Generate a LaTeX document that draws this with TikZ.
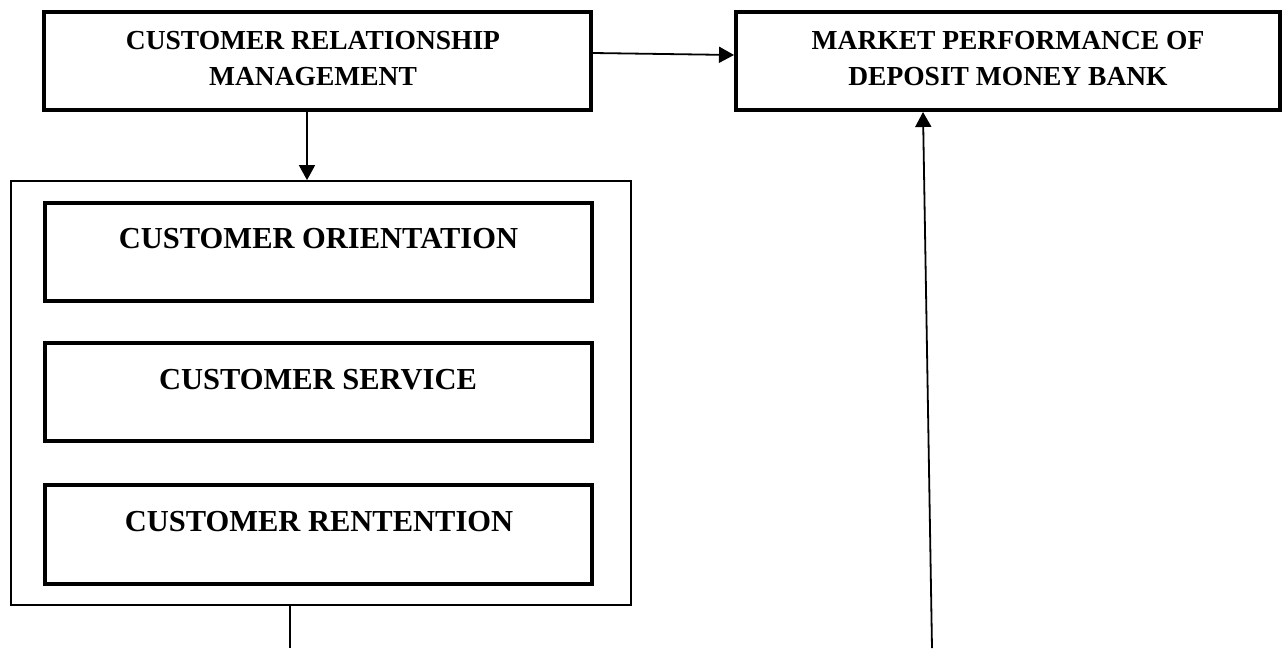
\documentclass[tikz,border=0pt]{standalone}
\usepackage{fontspec}
\setmainfont{Liberation Serif}
\usetikzlibrary{arrows.meta}

\begin{document}
\begin{tikzpicture}[x=1pt,y=1pt,
    thickbox/.style={draw=black, line width=4pt, inner sep=0pt},
    thinbox/.style={draw=black, line width=1.8pt, inner sep=0pt},
    headtext/.style={font=\bfseries\fontsize{27.5}{36}\selectfont, align=center, inner sep=0pt, anchor=north},
    itemtext/.style={font=\bfseries\fontsize{30.5}{36}\selectfont, inner sep=0pt, anchor=base},
    link/.style={line width=1.8pt, -{Triangle[length=15pt,width=16pt]}},
    plain/.style={line width=1.8pt}]
  \useasboundingbox (0,0) rectangle (1282,-648);

  % top row
  \node[thickbox, minimum width=547pt, minimum height=98pt] (crm) at (317.5,-61) {};
  \node[thickbox, minimum width=544pt, minimum height=98pt] (mp) at (1008,-61) {};
  \node[headtext] (crmtext) at (313,-31) {CUSTOMER RELATIONSHIP\\MANAGEMENT};
  \node[headtext] (mptext) at (1008,-31) {MARKET PERFORMANCE OF\\DEPOSIT MONEY BANK};

  % group of dimensions
  \node[thinbox, minimum width=620pt, minimum height=424pt] (group) at (321,-393) {};
  \node[thickbox, minimum width=547pt, minimum height=98pt] (orient) at (318.5,-252) {};
  \node[thickbox, minimum width=547pt, minimum height=98pt] (service) at (318.5,-392) {};
  \node[thickbox, minimum width=547pt, minimum height=99pt] (retain) at (318.5,-534.5) {};
  \node[itemtext] (orienttext) at (318.5,-248) {CUSTOMER ORIENTATION};
  \node[itemtext] (servicetext) at (318,-389) {CUSTOMER SERVICE};
  \node[itemtext] (retaintext) at (319,-531) {CUSTOMER RENTENTION};

  % connectors
  \coordinate (groupout) at (290,-648);
  \coordinate (mpin) at (932,-648);
  \draw[link] ([yshift=8pt]crm.east) -- ([yshift=6pt]mp.west);
  \draw[link] ([xshift=-10.5pt]crm.south) -- ([xshift=-14pt]group.north);
  \draw[plain] ([xshift=-31pt]group.south) -- (groupout);
  \draw[link] (mpin) -- ([xshift=-85pt]mp.south);
\end{tikzpicture}
\end{document}
